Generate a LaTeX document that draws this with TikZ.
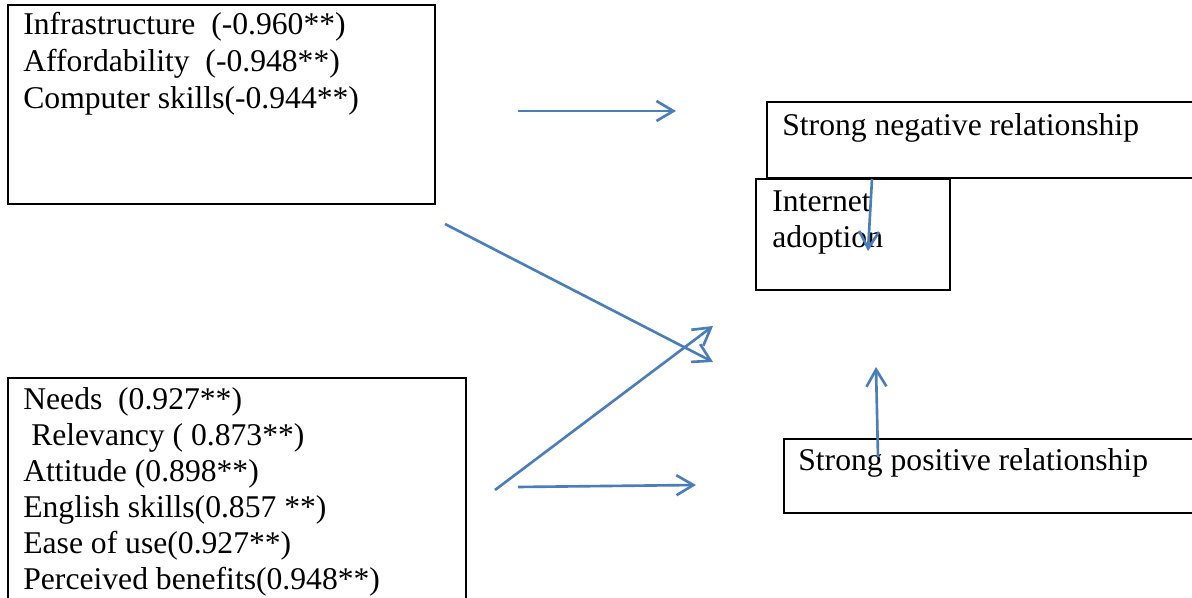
\documentclass[tikz,border=0pt]{standalone}
\usepackage{fontspec}
\setmainfont{Liberation Serif}
\usepackage{xcolor}
\usetikzlibrary{arrows.meta,calc,positioning}
\definecolor{linkblue}{HTML}{4A7EBB}
\tikzset{
  boxline/.style={draw=black,line width=1.2pt},
  txt/.style={anchor=base west,inner sep=0pt,font=\fontsize{18}{21}\selectfont},
  link/.style={draw=linkblue,line width=1.5pt,-{Straight Barb[length=0.34cm,width=0.4cm]}}
}
\begin{document}
\begin{tikzpicture}
  \useasboundingbox (0,0) rectangle (23.84,11.96);
  \clip (0,0) rectangle (23.84,11.96);
  % factor boxes
  \draw[boxline] (0.16,11.86) rectangle (8.70,7.88);
  \draw[boxline] (0.16,-0.2) -- (0.16,4.40) -- (9.32,4.40) -- (9.32,-0.2);
  \foreach \t [count=\i] in {Infrastructure\ \ (-0.960**),Affordability\ \ (-0.948**),Computer skills(-0.944**)}
    \node[txt] (neg\i) at (0.46,{11.26-0.735*(\i-1)}) {\t};
  \foreach \t [count=\i] in {Needs\ \ (0.927**),~Relevancy ( 0.873**),Attitude (0.898**),English skills(0.857 **),Ease of use(0.927**),Perceived benefits(0.948**)}
    \node[txt] (pos\i) at (0.46,{3.76-0.72*(\i-1)}) {\t};
  % outcome boxes
  \draw[boxline] (24,9.92) -- (15.34,9.92) -- (15.34,8.40) -- (24,8.40);
  \node[txt] (negrel) at (15.64,9.24) {Strong negative relationship};
  \draw[boxline] (15.12,8.38) rectangle (19.00,6.16);
  \node[txt] (inet1) at (15.44,7.72) {Internet};
  \node[txt] (inet2) at (15.44,7.00) {adoption};
  \draw[boxline] (24,3.18) -- (15.68,3.18) -- (15.68,1.70) -- (24,1.70);
  \node[txt] (posrel) at (15.96,2.54) {Strong positive relationship};
  % arrow ends
  \coordinate (a1s) at (10.36,9.74);  \coordinate (a1e) at (13.52,9.74);
  \coordinate (a2s) at (8.90,7.48);   \coordinate (a2e) at (14.26,4.72);
  \coordinate (a3s) at (9.90,2.16);   \coordinate (a3e) at (14.26,5.44);
  \coordinate (a4s) at (10.36,2.22);  \coordinate (a4e) at (13.92,2.26);
  \coordinate (a5s) at (17.44,8.38);  \coordinate (a5e) at (17.36,6.94);
  \coordinate (a6s) at (17.56,2.82);  \coordinate (a6e) at (17.52,4.62);
  \foreach \k in {1,...,6}
    \draw[link] (a\k s) -- (a\k e);
\end{tikzpicture}
\end{document}
